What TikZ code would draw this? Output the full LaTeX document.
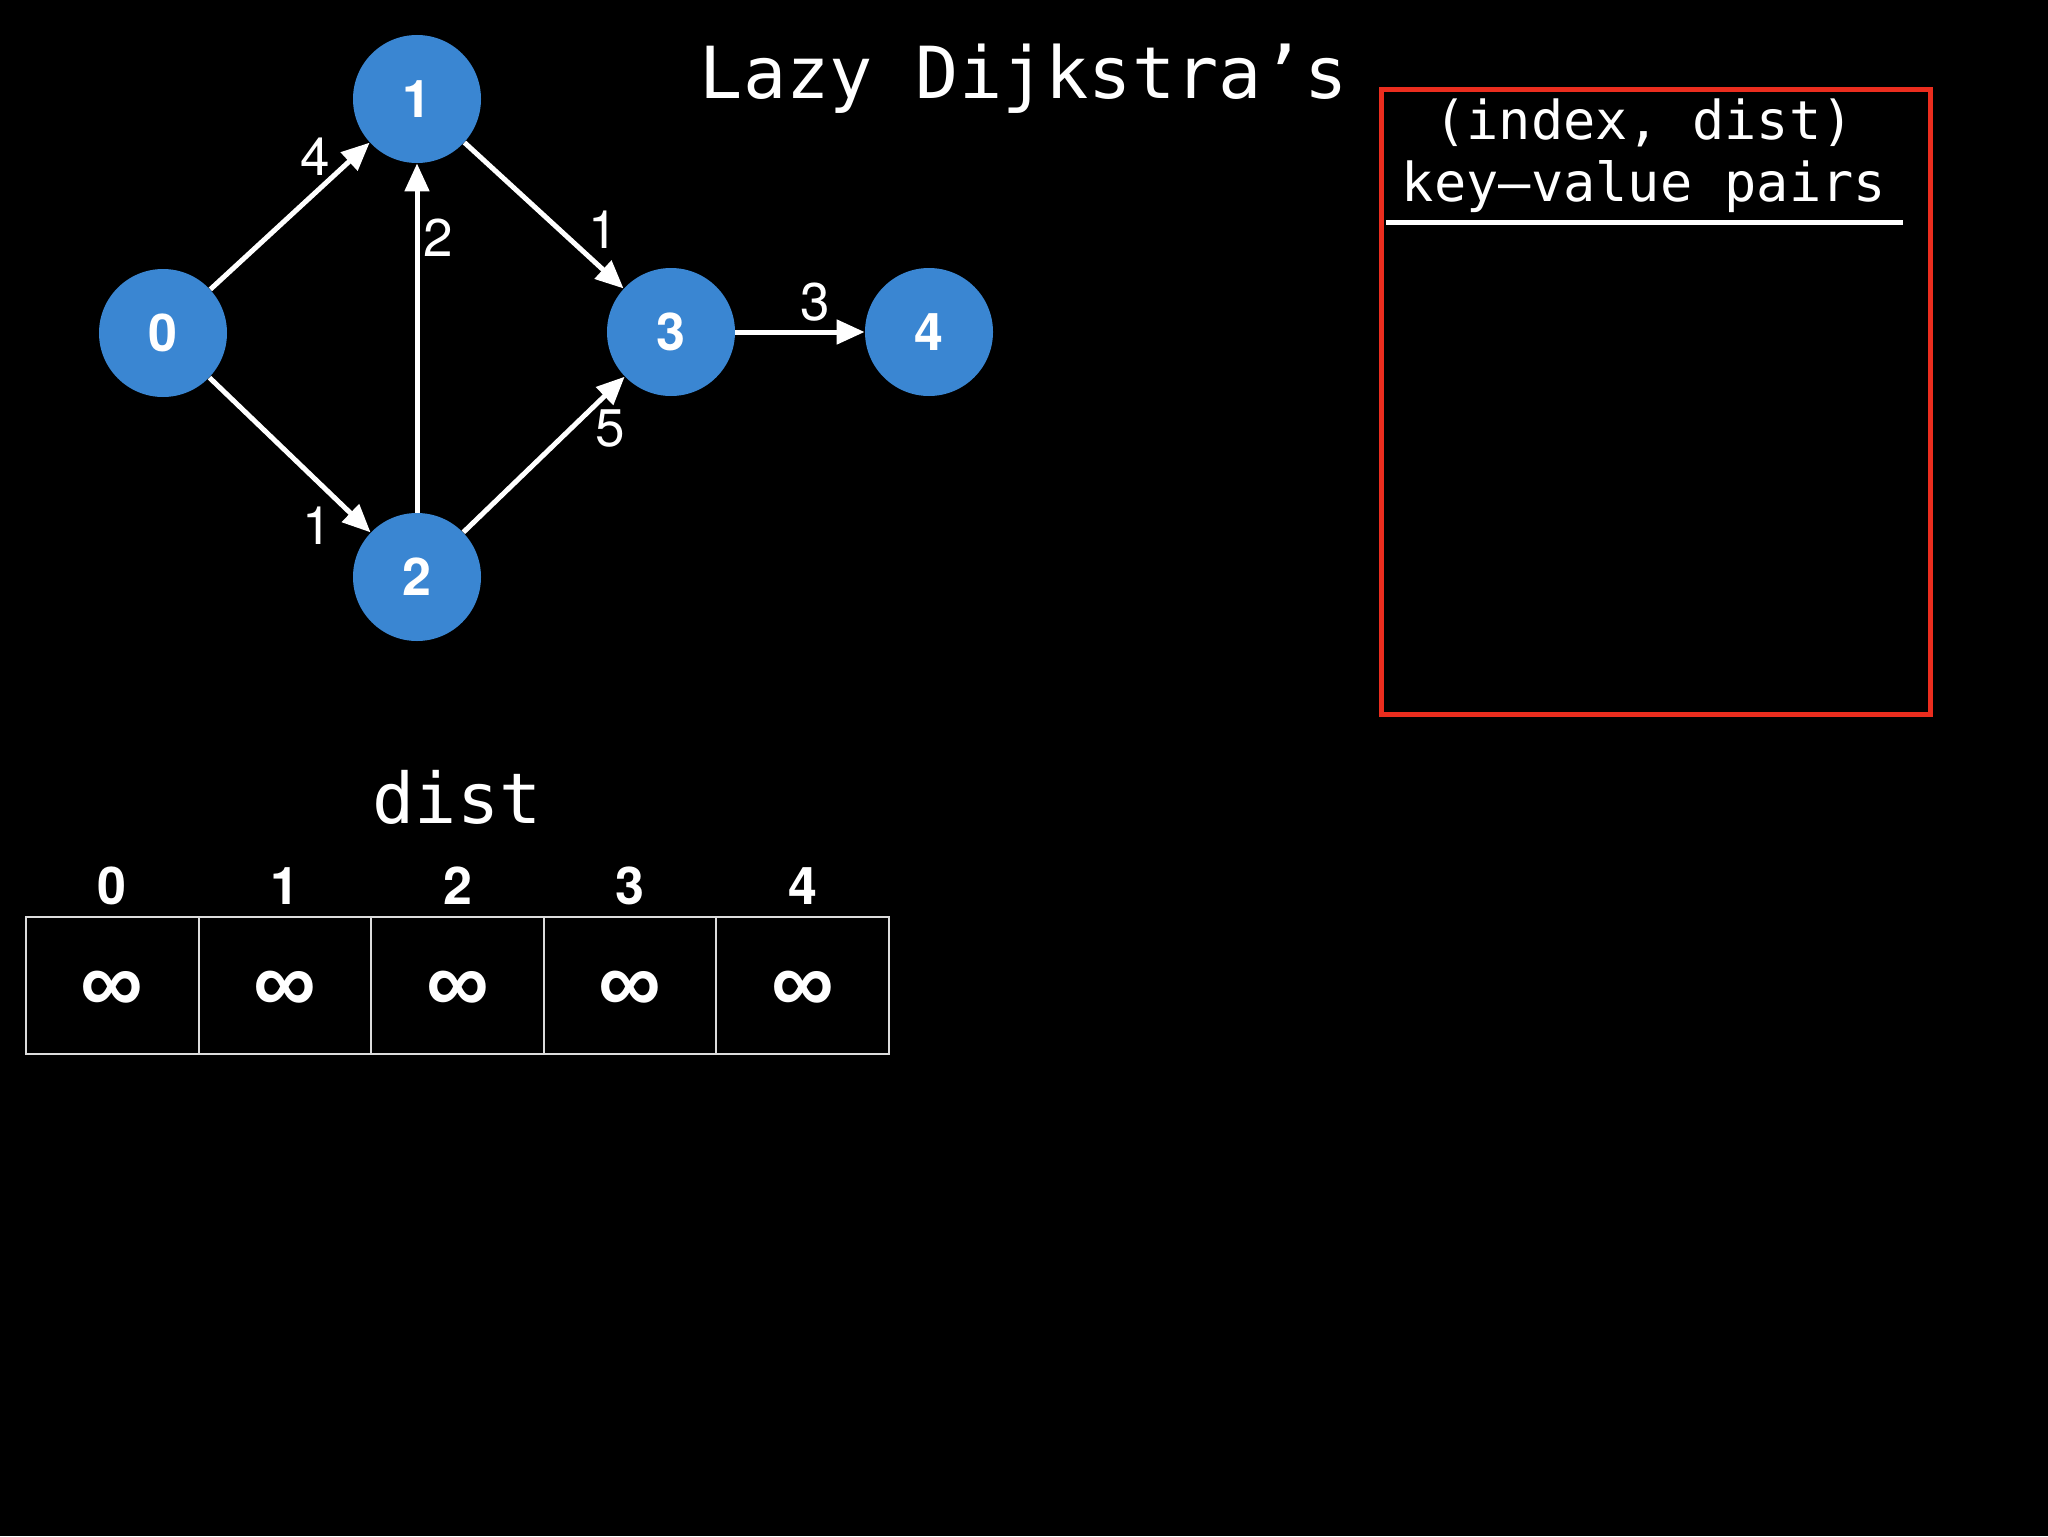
\documentclass[tikz,border=0pt]{standalone}
\usepackage{fontspec}
\setmainfont{Liberation Sans}
\newfontfamily\monofont{DejaVu Sans Mono}
\newfontfamily\herosfont{TeX Gyre Heros}
\usetikzlibrary{arrows.meta}
\definecolor{nodeblue}{RGB}{58,134,210}
\definecolor{boxred}{RGB}{235,45,30}
\definecolor{gridgray}{RGB}{220,220,220}
\begin{document}
\begin{tikzpicture}[x=0.5pt,y=-0.5pt,
  vertex/.style={circle,fill=nodeblue,minimum size=64pt,inner sep=0pt,text=white,
    font=\herosfont\bfseries\fontsize{26}{26}\selectfont},
  edge/.style={draw=white,line width=2.5pt,-{Triangle[length=14pt,width=12pt]}},
  wlabel/.style={text=white,inner sep=0pt,font=\herosfont\fontsize{26.5}{26.5}\selectfont},
  titletext/.style={text=white,inner sep=0pt,font=\monofont\fontsize{35.9}{35.9}\selectfont},
  monotext/.style={text=white,inner sep=0pt,font=\monofont\fontsize{35}{35}\selectfont},
  headtext/.style={text=white,inner sep=0pt,font=\monofont\fontsize{26.8}{26.8}\selectfont},
  cell/.style={draw=gridgray,line width=1pt,minimum width=86.3pt,minimum height=68.5pt,
    inner sep=0pt},
  infval/.style={text=white,inner sep=0pt,font=\bfseries\fontsize{44}{44}\selectfont},
  idx/.style={text=white,inner sep=0pt,font=\herosfont\bfseries\fontsize{26}{26}\selectfont}
]
\fill[black] (0,0) rectangle (2048,1536);
\useasboundingbox (0,0) rectangle (2048,1536);

% title
\node[titletext,anchor=base] (title) at (1024,98) {Lazy Dijkstra’s};

% graph
\node[vertex] (n0) at (163,333) {0};
\node[vertex] (n1) at (417,99) {1};
\node[vertex] (n2) at (417,577) {2};
\node[vertex] (n3) at (671,332) {3};
\node[vertex] (n4) at (929,332) {4};

\draw[edge] (n0) -- (n1);
\draw[edge] (n0) -- (n2);
\draw[edge] (n2) -- (n1);
\draw[edge] (n1) -- (n3);
\draw[edge] (n2) -- (n3);
\draw[edge] (n3) -- (n4);

\node[wlabel] (w01) at (315,157) {4};
\node[wlabel] (w21) at (438,238) {2};
\node[wlabel] (w13) at (603,230) {1};
\node[wlabel] (w34) at (815,302) {3};
\node[wlabel] (w23) at (610,429) {5};
\node[wlabel] (w02) at (317,526) {1};

% priority queue box
\node[draw=boxred,line width=2.5pt,minimum width=274.5pt,minimum height=312pt,inner sep=0pt] (pq) at (1655.5,402) {};
\node[headtext,anchor=base] (h1) at (1644,140) {(index, dist)};
\node[headtext,anchor=base] (h2) at (1644,201) {key–value pairs};
\coordinate (hl) at (1386,222);
\coordinate (hr) at (1903,222);
\draw[white,line width=2.5pt] (hl) -- (hr);

% dist array
\node[monotext,anchor=base] (distlabel) at (457,823) {dist};
\foreach \i/\x in {0/112.3,1/284.9,2/457.5,3/630.1,4/802.7}{
  \node[cell] (c\i) at (\x,985.5) {};
  \node[infval] (v\i) at (\x,992) {∞};
  \node[idx] (i\i) at (\x,886) {\i};
}
\end{tikzpicture}
\end{document}
